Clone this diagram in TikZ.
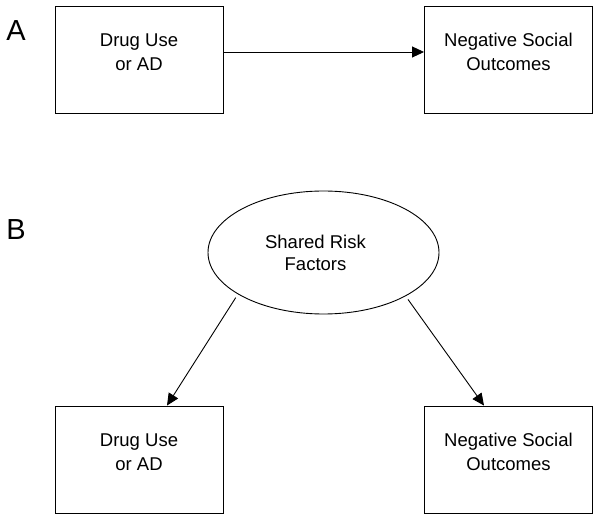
\documentclass[tikz,border=0pt]{standalone}
\usepackage{fontspec}
\setmainfont{Liberation Sans}
\usetikzlibrary{shapes.geometric,arrows.meta}
\begin{document}
\begin{tikzpicture}[x=1pt,y=-1pt,
  box/.style={draw,line width=0.9pt,minimum width=168pt,minimum height=107pt,inner sep=0pt},
  txt/.style={align=center,font=\fontsize{18.5}{24}\selectfont,inner sep=0pt},
  letter/.style={font=\fontsize{29}{30}\selectfont,inner sep=0pt},
  arr/.style={line width=0.9pt,-{Triangle[length=12pt,width=11pt]}}]
\useasboundingbox[fill=white] (0,0) rectangle (600,521);
% Panel A
\node[letter] (la) at (16,31) {A};
\node[box] (a1) at (139,59.5) {};
\node[box] (a2) at (508.5,59.5) {};
\node[txt] (ta1) at ([yshift=7.5pt]a1.center) {Drug Use\\or AD};
\node[txt] (ta2) at ([yshift=7.5pt]a2.center) {Negative Social\\Outcomes};
\draw[arr] ([yshift=7.5pt]a1.east) -- ([yshift=7.5pt]a2.west);
% Panel B
\node[letter] (lb) at (16,230) {B};
\node[draw,ellipse,line width=0.9pt,minimum width=231pt,minimum height=123pt,inner sep=0pt] (sr) at (323.5,252.5) {};
\node[txt,font=\fontsize{18.5}{22}\selectfont] (tsr) at ([xshift=-8pt]sr.center) {Shared Risk\\Factors};
\node[box] (b1) at (139,459.5) {};
\node[box] (b2) at (508.5,459.5) {};
\node[txt] (tb1) at ([yshift=7.5pt]b1.center) {Drug Use\\or AD};
\node[txt] (tb2) at ([yshift=7.5pt]b2.center) {Negative Social\\Outcomes};
\draw[arr,shorten <=4pt] (sr.206) -- ([xshift=28pt]b1.north);
\draw[arr,shorten <=4pt] (sr.332) -- ([xshift=-24.5pt]b2.north);
\end{tikzpicture}
\end{document}
